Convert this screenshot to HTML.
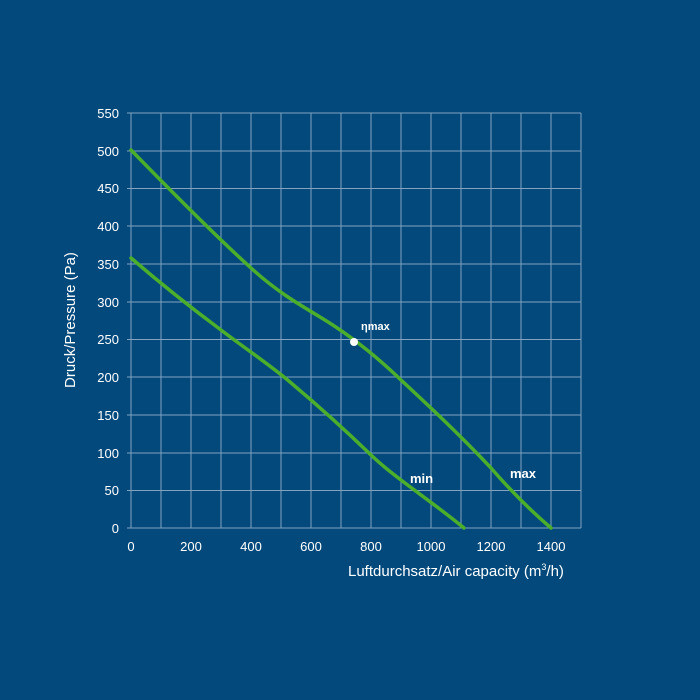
<!DOCTYPE html>
<html><head><style>body{margin:0;background:#03497c}</style></head><body>
<svg width="700" height="700" viewBox="0 0 700 700" style="display:block">
<rect width="700" height="700" fill="#03497c"/>
<g stroke="#b7c9dc" stroke-width="1" opacity="0.7">
<line x1="131" y1="113" x2="131" y2="528"/><line x1="161" y1="113" x2="161" y2="528"/><line x1="191" y1="113" x2="191" y2="528"/><line x1="221" y1="113" x2="221" y2="528"/><line x1="251" y1="113" x2="251" y2="528"/><line x1="281" y1="113" x2="281" y2="528"/><line x1="311" y1="113" x2="311" y2="528"/><line x1="341" y1="113" x2="341" y2="528"/><line x1="371" y1="113" x2="371" y2="528"/><line x1="401" y1="113" x2="401" y2="528"/><line x1="431" y1="113" x2="431" y2="528"/><line x1="461" y1="113" x2="461" y2="528"/><line x1="491" y1="113" x2="491" y2="528"/><line x1="521" y1="113" x2="521" y2="528"/><line x1="551" y1="113" x2="551" y2="528"/><line x1="581" y1="113" x2="581" y2="528"/>
<line x1="127" y1="113" x2="581" y2="113"/><line x1="127" y1="151" x2="581" y2="151"/><line x1="127" y1="188.5" x2="581" y2="188.5"/><line x1="127" y1="226" x2="581" y2="226"/><line x1="127" y1="264" x2="581" y2="264"/><line x1="127" y1="302" x2="581" y2="302"/><line x1="127" y1="339.5" x2="581" y2="339.5"/><line x1="127" y1="377" x2="581" y2="377"/><line x1="127" y1="415" x2="581" y2="415"/><line x1="127" y1="453" x2="581" y2="453"/><line x1="127" y1="490.5" x2="581" y2="490.5"/><line x1="127" y1="528" x2="581" y2="528"/>
</g>
<g fill="none" stroke="#4caf2c" stroke-width="3.5" stroke-linecap="round" stroke-linejoin="round">
<path d="M131,150 C170,190 220,240 251,268 C275,290 295,302 320,317 C350,335 375,355 401,380 C430,407 460,435 491,468 C510,490 530,510 551,528"/>
<path d="M131,258 C160,283 190,307 221,330 C250,352 270,365 290,382 C315,403 340,425 371,455 C395,478 430,500 464,528"/>
</g>
<circle cx="354" cy="342" r="4" fill="#fff"/>
<g font-family="Liberation Sans, sans-serif" fill="#fff" font-size="13">
<g text-anchor="end">
<text x="119" y="118">550</text><text x="119" y="156">500</text><text x="119" y="193">450</text><text x="119" y="231">400</text><text x="119" y="269">350</text><text x="119" y="307">300</text><text x="119" y="344">250</text><text x="119" y="382">200</text><text x="119" y="420">150</text><text x="119" y="458">100</text><text x="119" y="495">50</text><text x="119" y="533">0</text>
</g>
<g text-anchor="middle">
<text x="131" y="551">0</text><text x="191" y="551">200</text><text x="251" y="551">400</text><text x="311" y="551">600</text><text x="371" y="551">800</text><text x="431" y="551">1000</text><text x="491" y="551">1200</text><text x="551" y="551">1400</text>
</g>
<text x="348" y="576" font-size="15">Luftdurchsatz/Air capacity (m<tspan font-size="9" dy="-6">3</tspan><tspan dy="6">/h)</tspan></text>
<text transform="translate(75,320) rotate(-90)" text-anchor="middle" font-size="15">Druck/Pressure (Pa)</text>
<text x="361" y="330" font-size="11" font-weight="bold">ηmax</text>
<text x="410" y="483" font-size="13" font-weight="bold">min</text>
<text x="510" y="478" font-size="13" font-weight="bold">max</text>
</g>
</svg>
</body></html>
